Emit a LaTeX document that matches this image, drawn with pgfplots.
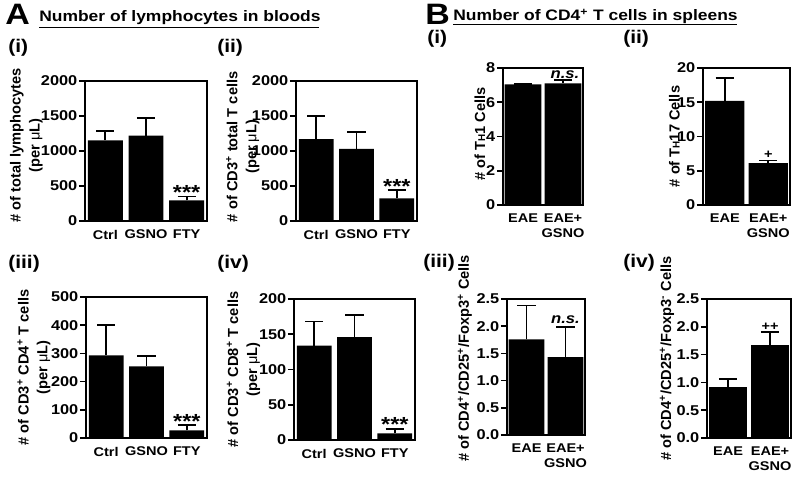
\documentclass[border=0pt]{standalone}
\usepackage{pgfplots}
\pgfplotsset{compat=1.18}
\usepackage{fontspec}
\setmainfont{Liberation Sans}[FakeStretch=1.15]
\newfontfamily\plainfont{Liberation Sans}
\newcommand{\sps}[1]{\textsuperscript{#1}}
\newcommand{\mul}{{\mdseries μ}L}
\pgfplotsset{
 panel/.style={
  scale only axis, anchor=south west, ybar,
  ymin=0, xmin=-0.5,
  axis line style={line width=1.25pt},
  ytick pos=left, tick align=outside,
  major tick length=4.3pt,
  every tick/.style={black, line width=1.25pt},
  xtick style={draw=none},
  xtick=data,
  /pgf/number format/assume math mode=true,
  /pgf/number format/1000 sep={},
  yticklabel style={font=\bfseries\fontsize{10.1}{11}\selectfont, inner sep=1pt},
  xticklabel style={font=\bfseries\fontsize{9}{10.6}\selectfont, align=center, inner sep=2pt},
  ylabel style={font=\plainfont\bfseries\fontsize{10.4}{13.5}\selectfont, align=center, anchor=center},
 },
 bars/.style={fill=black, draw=none, error bars/.cd, y dir=plus, y explicit,
   error mark=|,
   error bar style={line width=1.25pt, black},
   error mark options={mark size=6.5pt, line width=1.25pt, black}},
}
\tikzset{
 stars/.style={font=\bfseries\fontsize{14.5}{15}\selectfont, anchor=base, yshift=-2.3pt, inner sep=0pt},
 sig/.style={font=\bfseries\fontsize{9}{10}\selectfont, anchor=center, inner sep=0pt},
 ns/.style={font=\bfseries\itshape\fontsize{10.3}{12}\selectfont, anchor=base, inner sep=0pt},
}
\begin{document}
\begin{tikzpicture}
\path[use as bounding box] (0,0) rectangle (20cm,12.05cm);
% headers
\node[anchor=base west, inner sep=0pt, font=\bfseries\fontsize{21}{23}\selectfont] at (0.125cm,11.425cm) {A};
\node[anchor=base west, inner sep=0pt, font=\bfseries\fontsize{10.8}{12}\selectfont] at (0.975cm,11.5cm) {Number of lymphocytes in bloods};
\draw[line width=1pt] (0.975cm,11.3625cm) -- (7.975cm,11.3625cm);
\node[anchor=base west, inner sep=0pt, font=\bfseries\fontsize{21}{23}\selectfont] at (10.625cm,11.425cm) {B};
\node[anchor=base west, inner sep=0pt, font=\bfseries\fontsize{10.8}{12}\selectfont] at (11.325cm,11.53cm) {Number of CD4\sps{+} T cells in spleens};
\draw[line width=1pt] (11.325cm,11.44cm) -- (18.425cm,11.44cm);
% panel labels
\begin{scope}[every node/.style={anchor=base west, inner sep=0pt, font=\bfseries\fontsize{13}{15}\selectfont}]
\node at (0.2cm,10.725cm) {(i)};
\node at (5.425cm,10.725cm) {(ii)};
\node at (0.2cm,5.325cm) {(iii)};
\node at (5.425cm,5.325cm) {(iv)};
\node at (10.675cm,10.95cm) {(i)};
\node at (15.575cm,10.95cm) {(ii)};
\node at (10.575cm,5.35cm) {(iii)};
\node at (15.575cm,5.35cm) {(iv)};
\end{scope}
% A(i)
\begin{axis}[panel, at={(2.125cm,6.525cm)}, width=3.05cm, height=3.5cm, xmax=2.5, ymax=2000,
  ytick={0,500,1000,1500,2000}, bar width=0.86, xticklabels={Ctrl,GSNO,FTY},
  ylabel={\# of total lymphocytes\\(per \mul)}, ylabel style={at={(axis description cs:-0.48,0.54)}}]
\addplot[bars] coordinates {(0,1153) +- (0,132) (1,1220) +- (0,248) (2,296) +- (0,53)};
\node[stars] at (axis cs:2,349) {***};
\end{axis}
% A(ii)
\begin{axis}[panel, at={(7.4cm,6.525cm)}, width=3.025cm, height=3.5cm, xmax=2.5, ymax=2000,
  ytick={0,500,1000,1500,2000}, bar width=0.86, xticklabels={Ctrl,GSNO,FTY},
  ylabel={\# of CD3\sps{+} total T cells\\(per \mul)}, ylabel style={at={(axis description cs:-0.44,0.53)}}]
\addplot[bars] coordinates {(0,1169) +- (0,332) (1,1031) +- (0,242) (2,323) +- (0,123)};
\node[stars] at (axis cs:2,446) {***};
\end{axis}
% A(iii)
\begin{axis}[panel, at={(2.15cm,1.1cm)}, width=3.025cm, height=3.525cm, xmax=2.5, ymax=500,
  ytick={0,100,200,300,400,500}, bar width=0.86, xticklabels={Ctrl,GSNO,FTY},
  ylabel={\# of CD3\sps{+} CD4\sps{+} T cells\\(per \mul)}, ylabel style={at={(axis description cs:-0.43,0.5)}}]
\addplot[bars] coordinates {(0,293) +- (0,107) (1,254) +- (0,36) (2,27) +- (0,19)};
\node[stars] at (axis cs:2,46) {***};
\end{axis}
% A(iv)
\begin{axis}[panel, at={(7.35cm,1.05cm)}, width=3.025cm, height=3.525cm, xmax=2.5, ymax=200,
  ytick={0,50,100,150,200}, bar width=0.86, xticklabels={Ctrl,GSNO,FTY},
  ylabel={\# of CD3\sps{+} CD8\sps{+} T cells\\(per \mul)}, ylabel style={at={(axis description cs:-0.417,0.5)}}]
\addplot[bars] coordinates {(0,134) +- (0,34) (1,146) +- (0,31) (2,9.5) +- (0,6.5)};
\node[stars] at (axis cs:2,16) {***};
\end{axis}
% B(i)
\begin{axis}[panel, at={(12.575cm,6.925cm)}, width=2.0cm, height=3.425cm, xmax=1.5, ymax=8,
  ytick={0,2,4,6,8}, bar width=0.92, xticklabels={EAE,{EAE+\\GSNO}},
  ylabel={\# of T{\fontsize{7}{7}\selectfont H}1 Cells}, ylabel style={at={(axis description cs:-0.29,0.52)}}]
\addplot[bars] coordinates {(0,7.05) +- (0,0) (1,7.1) +- (0,0.22)};
\node[ns] at (axis cs:1.05,7.38) {n.s.};
\end{axis}
% B(ii)
\begin{axis}[panel, at={(17.575cm,6.925cm)}, width=2.175cm, height=3.425cm, xmax=1.5, ymax=20,
  ytick={0,5,10,15,20}, bar width=0.9, xticklabels={EAE,{EAE+\\GSNO}},
  ylabel={\# of T{\fontsize{7}{7}\selectfont H}17 Cells}, ylabel style={at={(axis description cs:-0.33,0.5)}}]
\addplot[bars] coordinates {(0,15.2) +- (0,3.3) (1,6.1) +- (0,0.4)};
\node[sig] at (axis cs:1,7.3) {+};
\end{axis}
% B(iii)
\begin{axis}[panel, at={(12.675cm,1.175cm)}, width=1.95cm, height=3.4cm, xmax=1.5, ymax=2.5,
  ytick={0,0.5,1,1.5,2,2.5}, bar width=0.92, xticklabels={EAE,{EAE+\\GSNO}},
  yticklabel style={/pgf/number format/.cd, fixed, fixed zerofill, precision=1},
  ylabel={\# of CD4\sps{+}/CD25\sps{+}/Foxp3\sps{+} Cells}, ylabel style={at={(axis description cs:-0.54,0.5625)}}]
\addplot[bars] coordinates {(0,1.76) +- (0,0.62) (1,1.43) +- (0,0.56)};
\node[ns] at (axis cs:1,2.05) {n.s.};
\end{axis}
% B(iv)
\begin{axis}[panel, at={(17.675cm,1.1cm)}, width=2.1cm, height=3.475cm, xmax=1.5, ymax=2.5,
  ytick={0,0.5,1,1.5,2,2.5}, bar width=0.9, xticklabels={EAE,{EAE+\\GSNO}},
  yticklabel style={/pgf/number format/.cd, fixed, fixed zerofill, precision=1},
  ylabel={\# of CD4\sps{+}/CD25\sps{+}/Foxp3\sps{-} Cells}, ylabel style={at={(axis description cs:-0.476,0.572)}}]
\addplot[bars] coordinates {(0,0.915) +- (0,0.145) (1,1.67) +- (0,0.23)};
\node[sig] at (axis cs:1,2.005) {++};
\end{axis}
\end{tikzpicture}
\end{document}
